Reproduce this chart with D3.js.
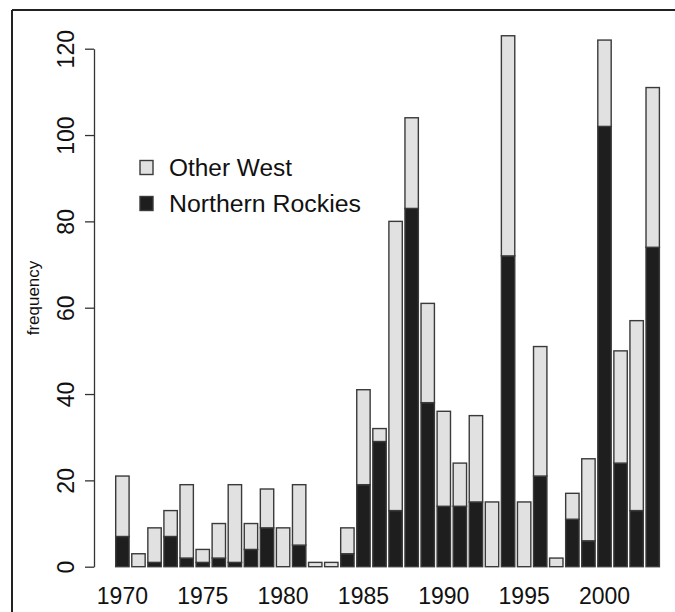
<!DOCTYPE html>
<html>
<head>
<meta charset="utf-8">
<script src="https://cdn.jsdelivr.net/npm/d3@7"></script>
<style>
  html, body { margin: 0; padding: 0; background: #fff; }
  svg { display: block; font-family: "Liberation Sans", Arial, Helvetica, sans-serif; }
</style>
</head>
<body>
<svg id="chart" width="675" height="612"></svg>
<script>
const years = [1970,1971,1972,1973,1974,1975,1976,1977,1978,1979,1980,1981,1982,1983,1984,1985,1986,1987,1988,1989,1990,1991,1992,1993,1994,1995,1996,1997,1998,1999,2000,2001,2002,2003];
const northernRockies = [7,0,1,7,2,1,2,1,4,9,0,5,0,0,3,19,29,13,83,38,14,14,15,0,72,0,21,0,11,6,102,24,13,74];
const otherWest = [14,3,8,6,17,3,8,18,6,9,9,14,1,1,6,22,3,67,21,23,22,10,20,15,51,15,30,2,6,19,20,26,44,37];
const seriesNames = ["Northern Rockies", "Other West"];
const seriesColors = ["#1e1e1e", "#e1e1e1"];
const yTicks = [0,20,40,60,80,100,120];
const xLabels = [1970,1975,1980,1985,1990,1995,2000];
const yLabel = "frequency";

const svg = d3.select("#chart");

// frame
svg.append("line").attr("x1", 12).attr("x2", 675).attr("y1", 10).attr("y2", 10)
  .attr("stroke", "#222").attr("stroke-width", 2);
svg.append("line").attr("x1", 12).attr("x2", 12).attr("y1", 10).attr("y2", 612)
  .attr("stroke", "#222").attr("stroke-width", 2);

const x = d3.scaleBand().domain(years).range([114.36, 660.74])
  .paddingInner(1/6).paddingOuter(1/12);
const y = d3.scaleLinear().domain([0, 120]).range([566.7, 48.7]);

const table = years.map((yr, i) => ({ year: yr, "Northern Rockies": northernRockies[i], "Other West": otherWest[i] }));
const stacked = d3.stack().keys(seriesNames)(table);

stacked.forEach((layer, li) => {
  svg.append("g").selectAll("rect").data(layer).join("rect")
    .attr("x", d => x(d.data.year))
    .attr("width", x.bandwidth())
    .attr("y", d => y(d[1]))
    .attr("height", d => y(d[0]) - y(d[1]))
    .attr("fill", seriesColors[li])
    .attr("stroke", "#3a3a3a")
    .attr("stroke-width", 1.4);
});

// y axis
const yAxis = d3.axisLeft(y).tickValues(yTicks).tickSize(9).tickSizeOuter(0).tickFormat(d3.format("d"));
const gy = svg.append("g").attr("transform", "translate(94,0)").call(yAxis);
gy.select(".domain").attr("stroke", "#333").attr("stroke-width", 1.3);
gy.selectAll(".tick line").attr("stroke", "#333").attr("stroke-width", 1.3);
gy.selectAll(".tick text")
  .attr("x", null).attr("dy", null)
  .attr("transform", "translate(-20.5,0) rotate(-90)")
  .attr("text-anchor", "middle")
  .attr("font-size", 23)
  .attr("fill", "#111");

// x labels
const gx = svg.append("g");
gx.selectAll("text").data(xLabels).join("text")
  .attr("x", d => x(d) + x.bandwidth() / 2)
  .attr("y", 604)
  .attr("text-anchor", "middle")
  .attr("font-size", 23)
  .attr("fill", "#111")
  .text(d => d);

// y label
svg.append("text")
  .attr("transform", "translate(39,298) rotate(-90)")
  .attr("text-anchor", "middle")
  .attr("font-size", 17)
  .attr("fill", "#111")
  .text(yLabel);

// legend
const legendItems = [
  { name: "Other West", color: seriesColors[1], len: 123 },
  { name: "Northern Rockies", color: seriesColors[0], len: 192 }
];
const lg = svg.append("g");
legendItems.forEach((it, i) => {
  const cy = 167.5 + i * 36;
  lg.append("rect").attr("x", 140).attr("y", cy - 7).attr("width", 13).attr("height", 14)
    .attr("fill", it.color).attr("stroke", "#3a3a3a").attr("stroke-width", 1.4);
  lg.append("text").attr("x", 169).attr("y", cy + 8.5)
    .attr("font-size", 23).attr("fill", "#111")
    .attr("textLength", it.len).attr("lengthAdjust", "spacingAndGlyphs")
    .text(it.name);
});
</script>
</body>
</html>
